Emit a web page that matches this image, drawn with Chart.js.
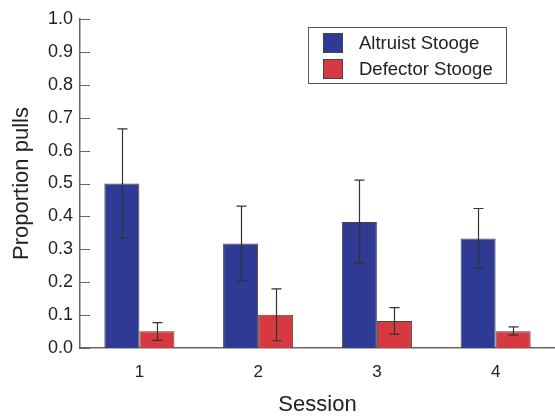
<!DOCTYPE html>
<html>
<head>
<meta charset="utf-8">
<script src="https://cdn.jsdelivr.net/npm/chart.js@4.4.1/dist/chart.umd.min.js"></script>
<style>
  html, body { margin: 0; padding: 0; background: #fff; }
  canvas { display: block; }
</style>
</head>
<body>
<canvas id="chart-area" width="555" height="418"></canvas>
<script>
// session labels and means with error bar ends
var sessions = ['1', '2', '3', '4'];
var altruistMean = [0.500, 0.318, 0.383, 0.333];
var altruistLow  = [0.335, 0.204, 0.257, 0.243];
var altruistHigh = [0.666, 0.431, 0.510, 0.424];
var defectorMean = [0.051, 0.101, 0.082, 0.051];
var defectorLow  = [0.023, 0.022, 0.042, 0.039];
var defectorHigh = [0.077, 0.180, 0.123, 0.064];
var seriesNames = ['Altruist Stooge', 'Defector Stooge'];

var blue = '#2e3a94';
var red = '#d6393f';
var fontFamily = '"Liberation Sans", Arial, Helvetica, sans-serif';
var textColor = '#222';
var lineColor = '#666';

var errorBars = [
  { low: altruistLow, high: altruistHigh },
  { low: defectorLow, high: defectorHigh }
];

// error bars, inward y ticks and the boxed legend
var extras = {
  id: 'extras',
  afterDatasetsDraw: function(chart) {
    var ctx = chart.ctx;
    var y = chart.scales.y;
    ctx.save();
    ctx.strokeStyle = '#333';
    ctx.lineWidth = 1.2;
    errorBars.forEach(function(eb, d) {
      var meta = chart.getDatasetMeta(d);
      meta.data.forEach(function(bar, i) {
        var x = Math.round(bar.x) + 0.5;
        var yl = y.getPixelForValue(eb.low[i]);
        var yh = y.getPixelForValue(eb.high[i]);
        ctx.beginPath();
        ctx.moveTo(x, yl); ctx.lineTo(x, yh);
        ctx.moveTo(x - 5, yl); ctx.lineTo(x + 5, yl);
        ctx.moveTo(x - 5, yh); ctx.lineTo(x + 5, yh);
        ctx.stroke();
      });
    });
    ctx.restore();
  },
  afterDraw: function(chart) {
    var ctx = chart.ctx;
    var area = chart.chartArea;
    var y = chart.scales.y;
    ctx.save();
    ctx.strokeStyle = lineColor;
    ctx.lineWidth = 1;
    y.ticks.forEach(function(t, i) {
      var py = Math.round(y.getPixelForTick(i)) + 0.5;
      ctx.beginPath();
      ctx.moveTo(area.left, py);
      ctx.lineTo(area.left + 10, py);
      ctx.stroke();
    });

    // legend
    ctx.strokeStyle = '#555';
    ctx.strokeRect(308.5, 27.5, 198, 56);
    ctx.font = '18.5px ' + fontFamily;
    ctx.textBaseline = 'middle';
    ctx.textAlign = 'left';
    chart.data.datasets.forEach(function(ds, d) {
      var top = 33 + d * 26;
      ctx.fillStyle = ds.backgroundColor;
      ctx.fillRect(323, top, 20, 20);
      ctx.strokeStyle = '#444';
      ctx.strokeRect(323.5, top + 0.5, 19, 19);
      ctx.fillStyle = textColor;
      ctx.fillText(ds.label, 359, top + 11);
    });
    ctx.restore();
  }
};

var config = {
  type: 'bar',
  data: {
    labels: sessions,
    datasets: [
      { label: seriesNames[0], data: altruistMean, backgroundColor: blue,
        borderColor: '#444', borderWidth: 1 },
      { label: seriesNames[1], data: defectorMean, backgroundColor: red,
        borderColor: '#444', borderWidth: 1 }
    ]
  },
  options: {
    responsive: false,
    animation: false,
    layout: { padding: { top: 19, right: 0, bottom: 0, left: 0 } },
    datasets: { bar: { categoryPercentage: 0.59, barPercentage: 1.0 } },
    plugins: {
      legend: { display: false },
      tooltip: { enabled: false }
    },
    scales: {
      x: {
        grid: { display: false, drawTicks: false },
        border: { display: true, color: lineColor, width: 1.5 },
        ticks: { color: textColor, font: { family: fontFamily, size: 17 }, padding: 14 },
        title: { display: true, text: 'Session', color: textColor,
          font: { family: fontFamily, size: 22 }, padding: { top: 0, bottom: 0 } },
        afterFit: function(scale) { scale.height = 70; }
      },
      y: {
        min: 0,
        max: 1,
        grid: { display: false, drawTicks: false },
        border: { display: true, color: lineColor, width: 1.5 },
        ticks: {
          stepSize: 0.1,
          color: textColor,
          font: { family: fontFamily, size: 18 },
          padding: 7,
          callback: function(v) { return v.toFixed(1); }
        },
        title: { display: true, text: 'Proportion pulls', color: textColor,
          font: { family: fontFamily, size: 22 }, padding: { top: 9, bottom: 0 } },
        afterFit: function(scale) { scale.width = 80; }
      }
    }
  },
  plugins: [extras]
};

var ctx = document.getElementById('chart-area').getContext('2d');
window.myBars = new Chart(ctx, config);
</script>
</body>
</html>
